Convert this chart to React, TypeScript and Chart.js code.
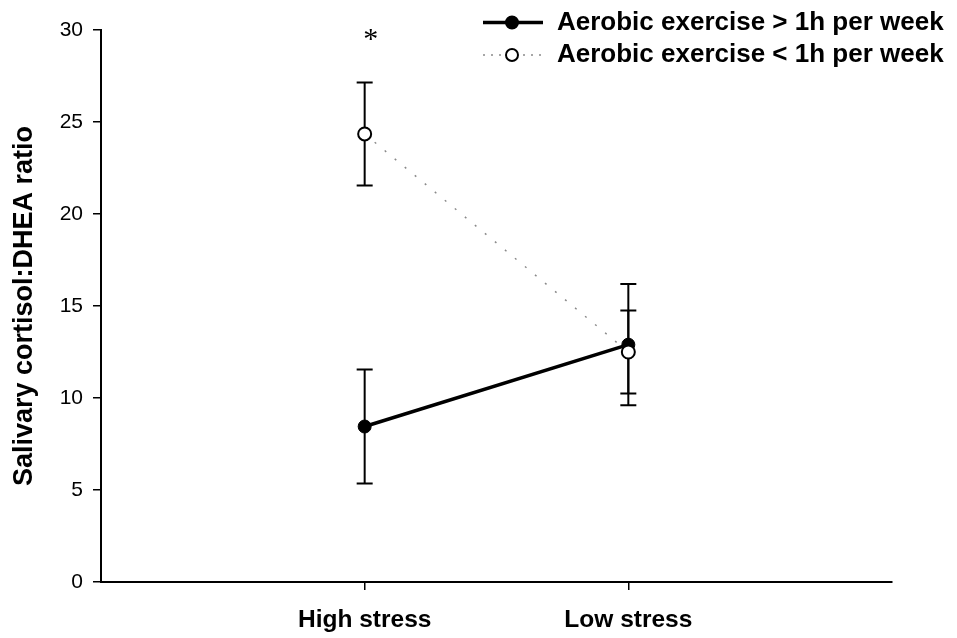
import React, { useEffect, useRef } from 'react';
import { Chart, registerables } from 'chart.js';

Chart.register(...registerables);

// ---- data ----
const categories = ['High stress', 'Low stress'];
const categoryPositions = [1, 2];

const moreExerciseLabel = 'Aerobic exercise > 1h per week';
const moreExerciseMeans = [8.45, 12.9];
const moreExerciseErrors = [3.1, 3.3];

const lessExerciseLabel = 'Aerobic exercise < 1h per week';
const lessExerciseMeans = [24.35, 12.5];
const lessExerciseErrors = [2.8, 2.25];

const yTickValues = [0, 5, 10, 15, 20, 25, 30];
const yAxisTitle = 'Salivary cortisol:DHEA ratio';

const significanceCategory = 0;
const significanceY = 29.8;
const significanceText = '*';

// ---- styles ----
const FONT = "'Liberation Sans', Arial, Helvetica, sans-serif";
const SERIF = "'Liberation Serif', 'Times New Roman', serif";
const dottedColor = '#8a8a8a';
const dottedDash = [2, 11];

const errorBarsPlugin = {
  id: 'errorBars',
  beforeDatasetsDraw(chart: any) {
    const ctx = chart.ctx;
    const xs = chart.scales.x;
    const ys = chart.scales.y;
    chart.data.datasets.forEach((ds: any) => {
      const errs: number[] = ds.errors || [];
      ds.data.forEach((pt: any, i: number) => {
        const e = errs[i];
        if (e == null) return;
        const px = xs.getPixelForValue(pt.x);
        const top = ys.getPixelForValue(pt.y + e);
        const bot = ys.getPixelForValue(pt.y - e);
        ctx.save();
        ctx.strokeStyle = '#000';
        ctx.lineWidth = 2;
        ctx.setLineDash([]);
        ctx.beginPath();
        ctx.moveTo(px, top);
        ctx.lineTo(px, bot);
        ctx.moveTo(px - 8, top);
        ctx.lineTo(px + 8, top);
        ctx.moveTo(px - 8, bot);
        ctx.lineTo(px + 8, bot);
        ctx.stroke();
        ctx.restore();
      });
    });
  },
};

const legendPlugin = {
  id: 'customLegend',
  afterDraw(chart: any) {
    const ctx = chart.ctx;
    const rows = [
      { label: moreExerciseLabel, y: 22.5, filled: true },
      { label: lessExerciseLabel, y: 55, filled: false },
    ];
    const x0 = 483;
    const x1 = 543;
    const cx = 512;
    rows.forEach((r) => {
      ctx.save();
      if (r.filled) {
        ctx.strokeStyle = '#000';
        ctx.lineWidth = 3.5;
        ctx.setLineDash([]);
      } else {
        ctx.strokeStyle = dottedColor;
        ctx.lineWidth = 1.5;
        ctx.setLineDash([2, 6]);
      }
      ctx.beginPath();
      ctx.moveTo(x0, r.y);
      ctx.lineTo(x1, r.y);
      ctx.stroke();
      ctx.setLineDash([]);
      ctx.beginPath();
      ctx.arc(cx, r.y, 6, 0, Math.PI * 2);
      ctx.fillStyle = r.filled ? '#000' : '#fff';
      ctx.fill();
      ctx.lineWidth = 2;
      ctx.strokeStyle = '#000';
      ctx.stroke();
      ctx.fillStyle = '#000';
      ctx.font = `bold 26px ${FONT}`;
      ctx.textAlign = 'left';
      ctx.textBaseline = 'middle';
      ctx.fillText(r.label, 557, r.y);
      ctx.restore();
    });
  },
};

const significancePlugin = {
  id: 'significance',
  afterDraw(chart: any) {
    const ctx = chart.ctx;
    const px = chart.scales.x.getPixelForValue(categoryPositions[significanceCategory]);
    const py = chart.scales.y.getPixelForValue(significanceY);
    ctx.save();
    ctx.fillStyle = '#000';
    ctx.font = `30px ${SERIF}`;
    ctx.textAlign = 'center';
    ctx.textBaseline = 'alphabetic';
    ctx.fillText(significanceText, px + 6, py + 14);
    ctx.restore();
  },
};

export default function App() {
  const ref = useRef<HTMLCanvasElement | null>(null);

  useEffect(() => {
    if (!ref.current) return;
    const chart = new Chart(ref.current, {
      type: 'line',
      data: {
        datasets: [
          {
            label: lessExerciseLabel,
            data: categoryPositions.map((x, i) => ({ x, y: lessExerciseMeans[i] })),
            errors: lessExerciseErrors,
            borderColor: dottedColor,
            borderWidth: 1.5,
            borderDash: dottedDash,
            pointRadius: 6.5,
            pointBackgroundColor: '#fff',
            pointBorderColor: '#000',
            pointBorderWidth: 2,
            fill: false,
            tension: 0,
          } as any,
          {
            label: moreExerciseLabel,
            data: categoryPositions.map((x, i) => ({ x, y: moreExerciseMeans[i] })),
            errors: moreExerciseErrors,
            borderColor: '#000',
            borderWidth: 3.5,
            pointRadius: 6.5,
            pointBackgroundColor: '#000',
            pointBorderColor: '#000',
            pointBorderWidth: 1,
            fill: false,
            tension: 0,
          } as any,
        ],
      },
      options: {
        animation: false,
        responsive: false,
        maintainAspectRatio: false,
        layout: { padding: { top: 30, right: 65, left: 0, bottom: 0 } },
        plugins: {
          legend: { display: false },
          tooltip: { enabled: false },
          title: { display: false },
        },
        scales: {
          x: {
            type: 'linear',
            min: 0,
            max: 3,
            afterBuildTicks: (scale: any) => {
              scale.ticks = categoryPositions.map((v) => ({ value: v }));
            },
            afterFit: (scale: any) => {
              scale.height = 56;
            },
            ticks: {
              autoSkip: false,
              maxRotation: 0,
              minRotation: 0,
              padding: 16,
              color: '#000',
              font: { family: FONT, size: 24.5, weight: 'bold' },
              callback: (v: any) => categories[categoryPositions.indexOf(Number(v))] ?? '',
            },
            grid: {
              display: true,
              drawOnChartArea: false,
              drawTicks: true,
              tickLength: 8,
              color: '#000',
              lineWidth: 1.5,
            },
            border: { display: true, color: '#000', width: 2 },
          },
          y: {
            type: 'linear',
            min: 0,
            max: 30,
            afterBuildTicks: (scale: any) => {
              scale.ticks = yTickValues.map((v) => ({ value: v }));
            },
            afterFit: (scale: any) => {
              scale.width = 101;
            },
            ticks: {
              padding: 10,
              color: '#000',
              font: { family: FONT, size: 21 },
            },
            grid: {
              display: true,
              drawOnChartArea: false,
              drawTicks: true,
              tickLength: 8,
              color: '#000',
              lineWidth: 1.5,
            },
            border: { display: true, color: '#000', width: 2 },
            title: {
              display: true,
              text: yAxisTitle,
              color: '#000',
              font: { family: FONT, size: 27, weight: 'bold' },
              padding: { top: 8, bottom: 0 },
            },
          },
        },
      } as any,
      plugins: [errorBarsPlugin, legendPlugin, significancePlugin],
    });
    return () => chart.destroy();
  }, []);

  return (
    <div style={{ position: 'absolute', left: 0, top: 0, width: 957, height: 638, background: '#fff' }}>
      <canvas ref={ref} width={957} height={638} style={{ display: 'block' }} />
    </div>
  );
}
